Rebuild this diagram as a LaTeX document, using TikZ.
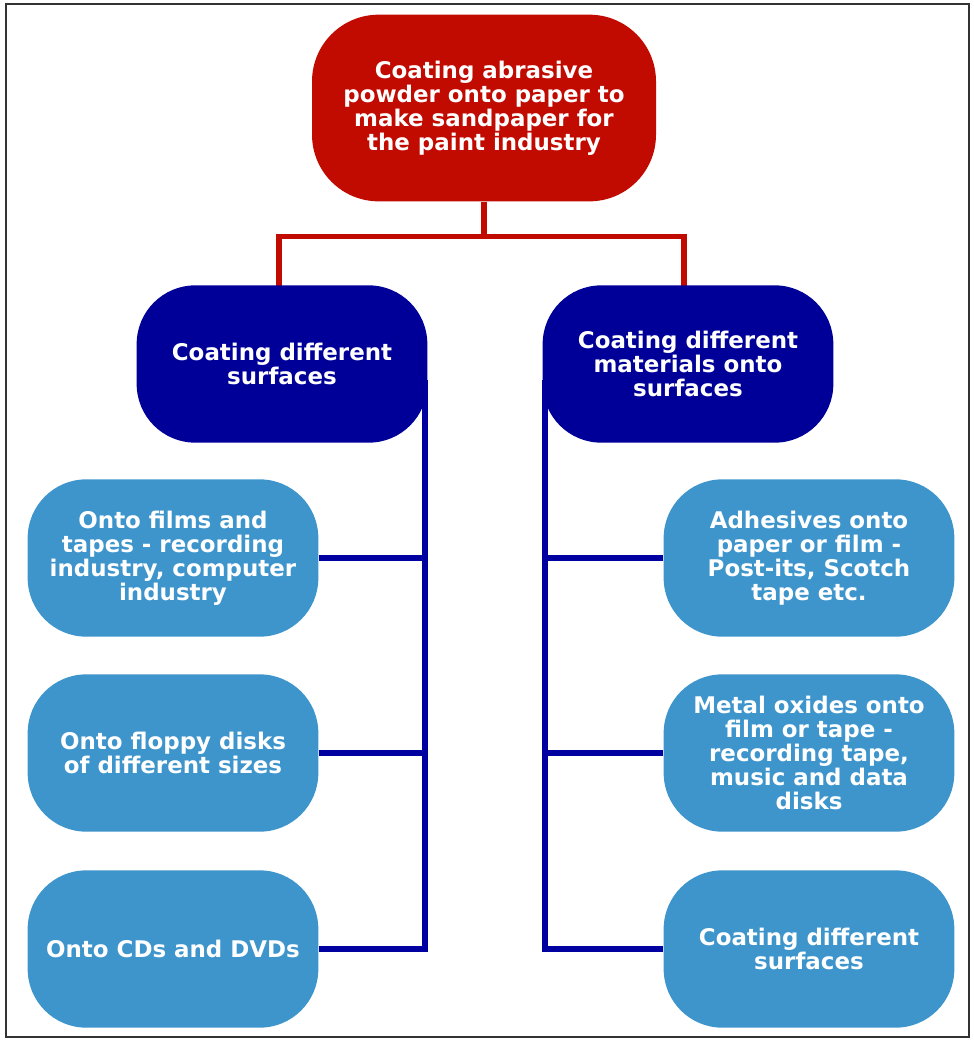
\documentclass[tikz,border=0pt]{standalone}
\usepackage{fontspec}
\setmainfont{DejaVu Sans}
\usetikzlibrary{backgrounds}
\definecolor{rootred}{RGB}{193,10,0}
\definecolor{midnavy}{RGB}{0,0,153}
\definecolor{leafblue}{RGB}{61,149,204}
\definecolor{linenavy}{RGB}{0,0,160}
\begin{document}
\begin{tikzpicture}[x=0.75pt,y=-0.75pt,
    box/.style={rounded corners=44pt, text=white, align=center, inner sep=0pt,
        minimum width=218pt, minimum height=118pt,
        font=\bfseries\fontsize{17.2}{18}\selectfont},
    rootbox/.style={box, fill=rootred, minimum width=258pt, minimum height=140pt, rounded corners=50pt},
    midbox/.style={box, fill=midnavy},
    leafbox/.style={box, fill=leafblue},
    redlink/.style={rootred, line width=4pt},
    bluelink/.style={linenavy, line width=4pt}]
\useasboundingbox (0,0) rectangle (974,1040);
\draw[black!80, line width=1.2pt] (6,4) rectangle (969,1037);
% top
\node[rootbox] (root) at (484,108) {Coating abrasive\\powder onto paper to\\make sandpaper for\\the paint industry};
\node[midbox] (surf) at (282,364) {Coating different\\surfaces};
\node[midbox] (mats) at (688,364) {Coating different\\materials onto\\surfaces};
% left column
\node[leafbox] (films) at (173,558) {Onto films and\\tapes - recording\\industry, computer\\industry};
\node[leafbox] (floppy) at (173,753) {Onto floppy disks\\of different sizes};
\node[leafbox] (cds) at (173,949) {Onto CDs and DVDs};
% right column
\node[leafbox] (adhes) at (809,558) {Adhesives onto\\paper or film -\\Post-its, Scotch\\tape etc.};
\node[leafbox] (oxides) at (809,753) {Metal oxides onto\\film or tape -\\recording tape,\\music and data\\disks};
\node[leafbox] (coat) at (809,949) {Coating different\\surfaces};
\coordinate (ltrunk) at (425,380);
\coordinate (rtrunk) at (545,380);
\coordinate (lstem) at (279,300);
\coordinate (rstem) at (684,300);
\begin{pgfonlayer}{background}
\draw[redlink] (root.south) -- ++(0,35) -| (lstem);
\draw[redlink] (root.south) -- ++(0,35) -| (rstem);
\draw[bluelink] (ltrunk) |- (cds.east);
\draw[bluelink] (films.east) -- (films.east -| ltrunk);
\draw[bluelink] (floppy.east) -- (floppy.east -| ltrunk);
\draw[bluelink] (rtrunk) |- (coat.west);
\draw[bluelink] (adhes.west) -- (adhes.west -| rtrunk);
\draw[bluelink] (oxides.west) -- (oxides.west -| rtrunk);
\end{pgfonlayer}
\end{tikzpicture}
\end{document}
